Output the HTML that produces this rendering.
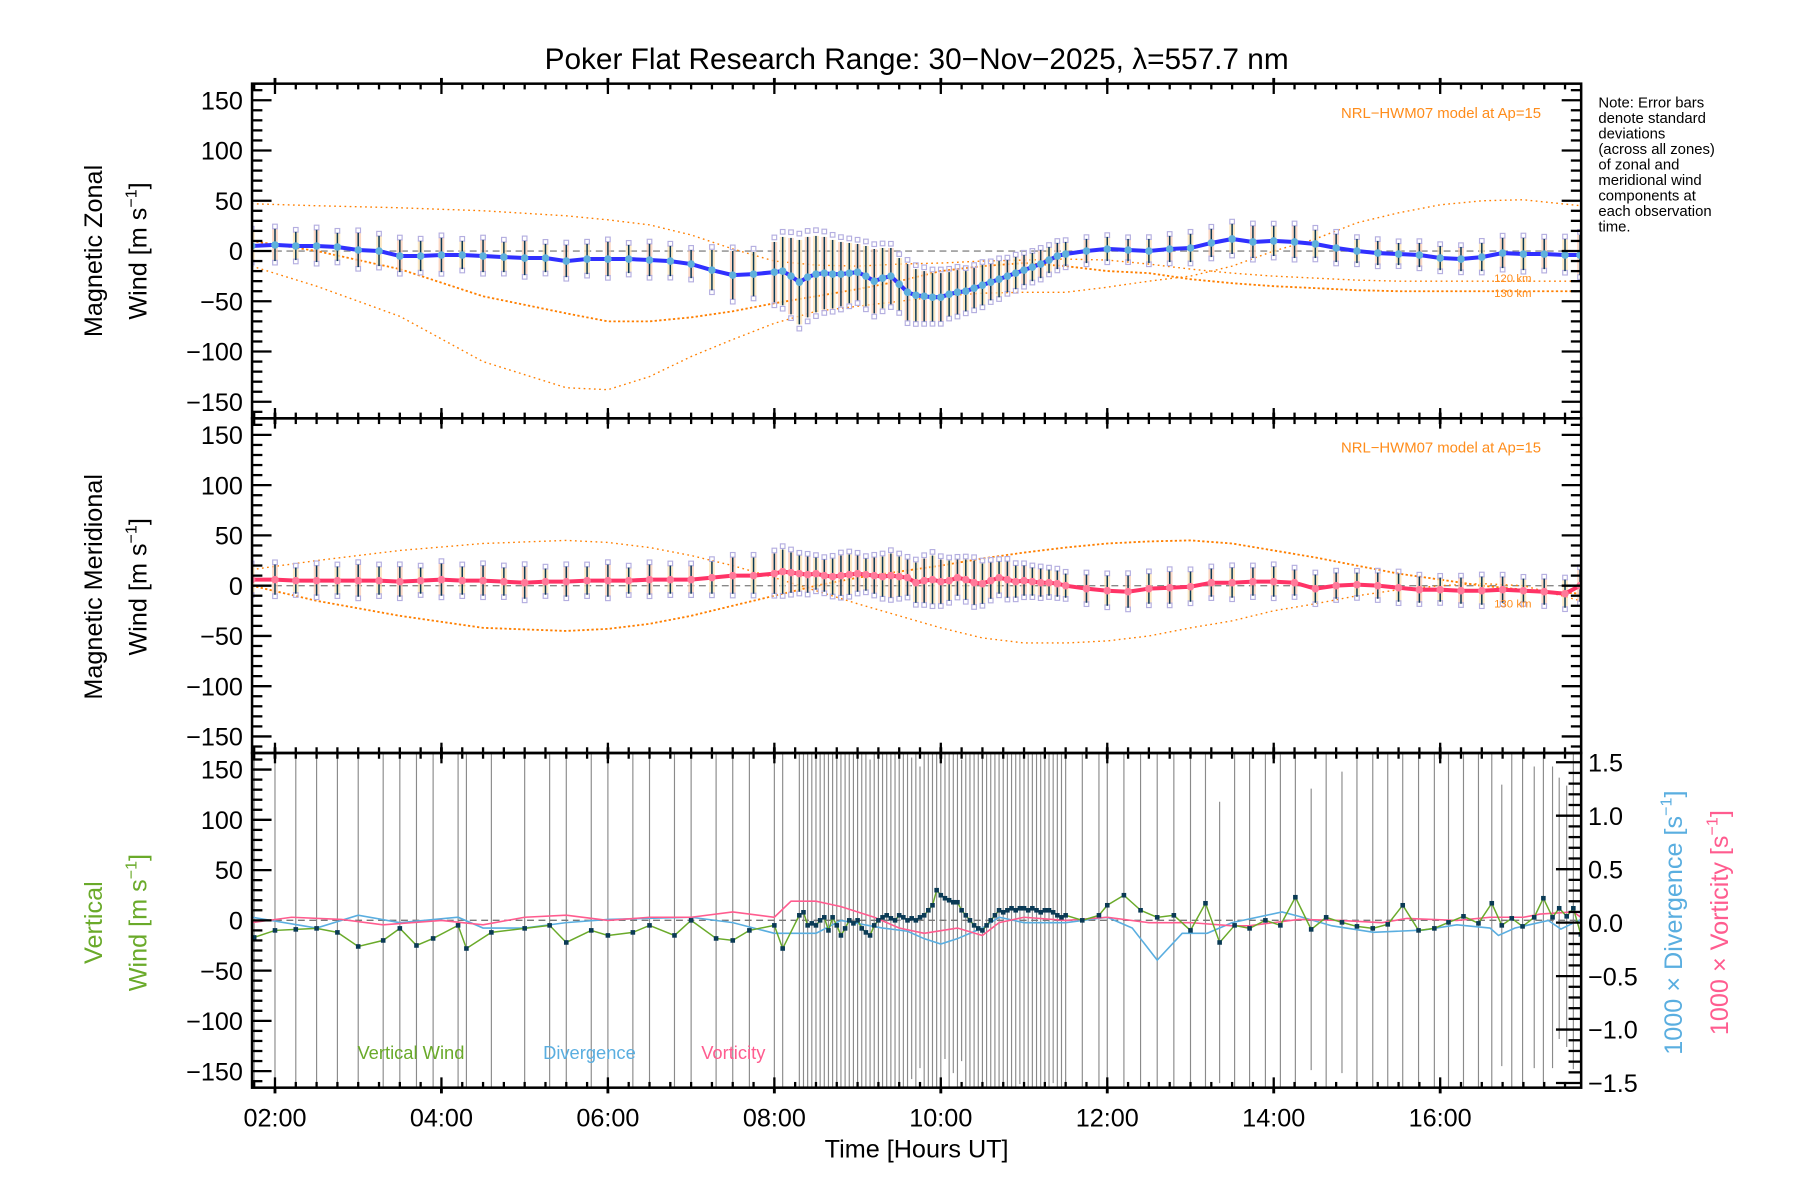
<!DOCTYPE html>
<html><head><meta charset="utf-8">
<style>
html,body{margin:0;padding:0;background:#fff;}
svg{display:block;font-family:"Liberation Sans",sans-serif;}
</style></head>
<body>
<svg id="chart" xmlns="http://www.w3.org/2000/svg" width="1800" height="1200" viewBox="0 0 1571 1047" preserveAspectRatio="none">
<rect x="0" y="0" width="1571" height="1047" fill="#fff"/>
<text x="800" y="60" font-size="26" text-anchor="middle">Poker Flat Research Range: 30−Nov−2025, λ=557.7 nm</text>
<g font-size="13">
<text x="1395" y="94">Note: Error bars</text>
<text x="1395" y="107.5">denote standard</text>
<text x="1395" y="121">deviations</text>
<text x="1395" y="134.5">(across all zones)</text>
<text x="1395" y="148">of zonal and</text>
<text x="1395" y="161.5">meridional wind</text>
<text x="1395" y="175">components at</text>
<text x="1395" y="188.5">each observation</text>
<text x="1395" y="202">time.</text>
</g>
<g id="layer"></g>
</svg>
<script>
// ---------- DATA ----------
const zonalTimes = [1.72,2.0,2.25,2.5,2.75,3.0,3.25,3.5,3.75,4.0,4.25,4.5,4.75,5.0,5.25,5.5,5.75,6.0,6.25,6.5,6.75,7.0,7.25,7.5,7.75,
 8.0,8.1,8.2,8.3,8.4,8.5,8.6,8.7,8.8,8.9,9.0,9.1,9.2,9.3,9.4,9.5,9.6,9.7,9.8,9.9,10.0,10.1,10.2,10.3,10.4,10.5,10.6,10.7,10.8,10.9,11.0,11.1,11.2,11.3,11.4,11.5,
 11.75,12.0,12.25,12.5,12.75,13.0,13.25,13.5,13.75,14.0,14.25,14.5,14.75,15.0,15.25,15.5,15.75,16.0,16.25,16.5,16.75,17.0,17.25,17.5,17.68];
const zonalWind = [5,6,5,5,4,1,0,-5,-5,-4,-4,-5,-6,-7,-7,-10,-8,-8,-8,-9,-10,-13,-19,-24,-23,
 -21,-20,-25,-31,-26,-23,-22,-23,-23,-22,-21,-25,-30,-27,-25,-33,-41,-44,-45,-46,-46,-43,-41,-40,-37,-34,-31,-28,-25,-22,-19,-16,-13,-9,-5,-3,
 0,2,1,0,2,3,8,12,9,10,9,7,3,0,-2,-3,-4,-7,-8,-6,-2,-3,-3,-4,-4];
const zonalErr = [15,16,14,16,14,17,15,16,15,17,14,16,15,17,14,16,15,17,14,16,15,14,20,24,22,
 30,34,38,42,40,38,36,34,32,30,28,30,32,30,28,26,28,26,25,24,24,22,22,20,20,20,18,18,16,16,15,14,14,13,13,12,
 12,12,11,12,13,14,14,15,16,15,16,14,14,12,12,11,12,12,12,14,15,16,15,16,20];
const meridTimes = zonalTimes;
const meridWind = [6,6,5,5,5,5,5,4,5,6,5,5,4,3,4,4,5,5,5,6,6,6,8,10,10,
 12,14,13,12,11,12,10,9,10,11,12,11,10,9,10,9,8,3,5,6,4,5,8,6,3,2,5,8,6,4,5,4,3,3,2,0,
 -3,-5,-6,-3,-2,-1,3,3,4,4,3,-3,0,1,0,-2,-4,-4,-5,-5,-4,-5,-6,-8,0];
const meridErr = [14,15,13,15,14,16,14,15,13,16,14,15,14,16,13,15,14,16,13,15,14,14,16,18,18,
 20,22,20,18,18,16,16,18,20,20,18,16,18,20,22,20,18,20,22,24,22,20,18,20,22,20,18,16,18,16,15,14,14,13,13,12,
 14,15,16,15,16,15,14,15,14,15,13,14,13,12,13,14,13,12,13,14,13,12,13,14,16];
const vertTimes = [1.75,2.0,2.25,2.5,2.75,3.0,3.3,3.5,3.7,3.9,4.2,4.3,4.6,5.0,5.3,5.5,5.8,6.0,6.3,6.5,6.8,7.0,7.3,7.5,7.7,8.0,8.1,
 8.3,8.35,8.4,8.45,8.5,8.55,8.6,8.65,8.7,8.75,8.8,8.85,8.9,8.95,9.0,9.05,9.1,9.15,9.2,9.25,9.3,9.35,9.4,9.45,9.5,9.55,9.6,9.65,9.7,9.75,9.8,9.85,9.9,9.95,10.0,10.05,10.1,10.15,10.2,10.25,10.3,10.35,10.4,10.45,10.5,10.55,10.6,10.65,10.7,10.75,10.8,10.85,10.9,10.95,11.0,11.05,11.1,11.15,11.2,11.25,11.3,11.35,11.4,11.45,11.5,
 11.7,11.9,12.0,12.2,12.4,12.6,12.8,13.0,13.18,13.35,13.53,13.71,13.9,14.08,14.26,14.45,14.63,14.82,15.0,15.19,15.37,15.55,15.74,15.93,16.1,16.28,16.46,16.62,16.74,16.86,16.99,17.13,17.24,17.35,17.43,17.52,17.6,17.69];
const vertWind = [-17,-10,-9,-8,-12,-26,-20,-8,-25,-18,-5,-28,-12,-8,-5,-22,-10,-15,-12,-5,-15,0,-18,-20,-10,-5,-28,
 5,8,-5,-3,-5,0,3,-10,3,-5,-15,-8,0,-3,0,-8,-12,-15,-5,0,3,5,2,0,5,3,0,2,0,3,5,10,15,30,25,22,20,18,18,10,5,0,-5,-8,-10,-5,0,5,10,8,10,12,10,12,12,10,12,10,8,10,10,8,5,3,5,
 0,5,15,25,10,3,5,-10,17,-22,-5,-8,0,-5,23,-9,3,-2,-6,-8,-4,15,-10,-8,-2,4,-3,17,-5,2,-6,3,22,3,12,4,12,-14];
const vertErr = [200,200,200,200,200,200,200,200,200,200,200,200,200,200,200,200,200,200,200,200,200,200,200,200,200,200,200,
 200,180,200,170,200,190,200,180,200,175,200,190,200,180,200,185,200,175,200,190,200,180,200,185,200,170,200,160,200,150,200,175,200,210,200,160,200,170,200,150,200,165,200,180,200,170,200,190,200,180,200,190,200,175,200,185,200,180,200,190,200,170,200,185,200,
 200,200,200,200,200,200,200,200,200,140,200,200,200,170,200,140,200,150,200,190,200,200,200,200,200,200,200,200,140,200,200,150,200,150,130,130,160,180];
const divTimes = [1.725,2.5,3.0,3.5,4.2,4.5,5.0,5.5,6.0,7.0,7.5,8.0,8.5,8.8,9.3,9.6,9.8,10.0,10.2,10.5,10.7,11.0,11.5,12.0,12.3,12.6,12.9,13.2,13.5,14.1,14.3,14.7,15.2,15.8,16.2,16.6,16.7,16.9,17.3,17.45,17.69];
const divergence = [0.05,-0.05,0.07,0.0,0.05,-0.05,-0.05,0.0,0.03,0.05,0.0,-0.1,-0.1,0.02,-0.05,-0.08,-0.15,-0.2,-0.15,-0.05,0.05,0.0,0.0,0.05,-0.05,-0.35,-0.1,-0.1,0.0,0.1,0.06,-0.03,-0.09,-0.07,-0.02,-0.05,-0.12,-0.05,0.02,-0.06,0.03];
const vortTimes = [1.725,2.2,2.8,3.3,4.0,4.5,5.0,5.5,6.0,6.5,7.0,7.5,8.0,8.2,8.5,8.8,9.2,9.5,9.8,10.2,10.5,10.7,11.0,11.5,12.0,12.5,13.0,13.5,13.7,14.0,14.3,14.8,15.3,15.6,16.2,16.6,17.0,17.2,17.6,17.69];
const vorticity = [0,0.05,0.03,-0.02,0.02,-0.02,0.05,0.07,0.02,0.05,0.05,0.1,0.05,0.2,0.2,0.15,0.05,-0.05,-0.1,-0.05,-0.12,0.0,0.05,0.02,0.05,0.0,0.0,-0.03,-0.03,0.0,0.03,0.02,0.0,0.04,0.02,0.05,0.05,0.08,0.1,0.05];
const modelTimes = [1.72,2.5,3.5,4.5,5.5,6.0,6.5,7.0,7.5,8.0,8.5,9.0,9.5,10.0,10.5,11.0,11.5,12.0,12.5,13.0,13.5,14.0,14.5,15.0,15.5,16.0,16.5,17.0,17.69];
const zonalModel120 = [47,45,43,40,35,31,26,16,2,-10,-14,-15,-13,-12,-10,-9,-8,-9,-13,-18,-22,-25,-27,-29,-30,-30,-30,-30,-30];
const zonalModel130 = [10,0,-18,-45,-62,-70,-70,-66,-60,-52,-45,-38,-30,-20,-15,-12,-15,-20,-22,-28,-32,-35,-37,-39,-40,-40,-40,-40,-40];
const zonalModelLow = [-15,-35,-65,-110,-136,-138,-125,-105,-88,-72,-60,-55,-50,-45,-42,-41,-41,-36,-30,-25,-15,0,12,28,38,46,50,51,45];
const meridModelA = [16,25,35,42,45,43,38,30,20,8,-5,-18,-30,-42,-52,-57,-57,-55,-50,-42,-35,-25,-18,-10,-4,0,2,0,-15];
const meridModelB = [0,-15,-30,-42,-45,-43,-38,-30,-20,-10,0,8,14,20,27,33,38,42,44,45,42,35,28,20,12,6,0,-4,-8];
const leftTicks = [-150,-100,-50,0,50,100,150];
const rightTicks = [-1.5,-1.0,-0.5,0.0,0.5,1.0,1.5];
const rightTickLabels = ["−1.5","−1.0","−0.5","0.0","0.5","1.0","1.5"];
const hourTicks = [2,4,6,8,10,12,14,16];
const hourLabels = ["02:00","04:00","06:00","08:00","10:00","12:00","14:00","16:00"];

// ---------- SCALES ----------
const X0=220, X1=1380, PH=292;
const panelTops=[73,365,657];
function xs(t){return 240+(t-2)*72.64;}
function ys(p,v){return panelTops[p]+146-v*0.877;}
function yr(v){return 805-v*93.3;}
const NS="http://www.w3.org/2000/svg";
const layer=document.getElementById('layer');
function mk(tag,attrs,parent){const e=document.createElementNS(NS,tag);for(const k in attrs)e.setAttribute(k,attrs[k]);(parent||layer).appendChild(e);return e;}

const defs=mk('defs',{});
for(let p=0;p<3;p++){const c=mk('clipPath',{id:'clip'+p},defs);mk('rect',{x:X0,y:panelTops[p],width:X1-X0,height:PH},c);}

function poly(p,times,vals,fy,attrs,name){
  let pts=times.map((t,i)=>xs(t).toFixed(1)+','+fy(vals[i]).toFixed(1)).join(' ');
  const e=mk('polyline',Object.assign({points:pts,fill:'none','clip-path':'url(#clip'+p+')'},attrs));
  
  
  return e;
}

function windPanel(p,times,vals,errs,lineColor,m1,m2,m3,name){
  const g=mk('g',{'clip-path':'url(#clip'+p+')'});
  
  
  const z=mk('line',{x1:X0,x2:X1,y1:ys(p,0),y2:ys(p,0),stroke:'#888','stroke-width':1.2,'stroke-dasharray':'6,4'},g);
  
  
  const mods=[m1,m2,m3];
  mods.forEach((m,k)=>{ if(!m) return;
    const e=poly(p,modelTimes,m,v=>ys(p,v),{stroke:'#ff7f00','stroke-width':k==1?1.6:1.2,'stroke-dasharray':k==1?'2,2':'1.5,3'},'model-curve');
    g.appendChild(e);
  });
  times.forEach((t,i)=>{
    const x=xs(t), y=ys(p,vals[i]), e=errs[i]*0.877;
    const r=mk('rect',{x:x-2.5,y:y-e,width:5,height:2*e,fill:i%2?'#f9c9b0':'#fbe0b0',opacity:0.75},g);
    
    
    const sq1=mk('rect',{x:x-2,y:y-e*1.15-2,width:4,height:4,fill:'none',stroke:'#b4aee0','stroke-width':1},g);
    
    
    const sq2=mk('rect',{x:x-2,y:y+e*1.1-2,width:4,height:4,fill:'none',stroke:'#b4aee0','stroke-width':1},g);
    
    
  });
  times.forEach((t,i)=>{
    const x=xs(t), y=ys(p,vals[i]), e=errs[i]*0.877;
    const l=mk('line',{x1:x,x2:x,y1:y-e,y2:y+e,stroke:'#0a3a55','stroke-width':1.3},g);
    
    
  });
  g.appendChild(poly(p,times,vals,v=>ys(p,v),{stroke:lineColor,'stroke-width':3.5},name+'-line'));
  times.forEach((t,i)=>{
    const c=mk('circle',{cx:xs(t),cy:ys(p,vals[i]),r:3.3,fill:p==0?'#5fb0dc':'#ff7a9a'},g);
    
    
  });
}
windPanel(0,zonalTimes,zonalWind,zonalErr,'#3030ff',zonalModel120,zonalModel130,zonalModelLow,'zonal-wind');
windPanel(1,meridTimes,meridWind,meridErr,'#ff3366',meridModelA,meridModelB,null,'meridional-wind');

(function(){
  const p=2;
  const g=mk('g',{'clip-path':'url(#clip2)'});
  
  
  vertTimes.forEach((t,i)=>{
    const x=xs(t), y=ys(p,vertWind[i]), e=vertErr[i]*0.877;
    const l=mk('line',{x1:x,x2:x,y1:y-e,y2:y+e,stroke:'#8a8a8a','stroke-width':1},g);
    
    
  });
  const z=mk('line',{x1:X0,x2:X1,y1:ys(p,0),y2:ys(p,0),stroke:'#777','stroke-width':1.2,'stroke-dasharray':'6,4'},g);
  
  
  g.appendChild(poly(p,divTimes,divergence,yr,{stroke:'#5aaee0','stroke-width':1.4},'divergence-line'));
  g.appendChild(poly(p,vortTimes,vorticity,yr,{stroke:'#ff5c8f','stroke-width':1.4},'vorticity-line'));
  g.appendChild(poly(p,vertTimes,vertWind,v=>ys(p,v),{stroke:'#6aaa2a','stroke-width':1.3},'vertical-wind-line'));
  vertTimes.forEach((t,i)=>{
    const s=mk('rect',{x:xs(t)-2,y:ys(p,vertWind[i])-2,width:4,height:4,fill:'#0a3a55'},g);
    
    
  });
})();

const ax=mk('g',{});


for(let p=0;p<3;p++){
  const T=panelTops[p], B=T+PH;
  const fr=mk('rect',{x:X0,y:T,width:X1-X0,height:PH,fill:'none',stroke:'#000','stroke-width':2.2},ax);
  
  
  for(let v=-160;v<=160;v+=10){
    const major=v%50===0, len=major?17:9, y=ys(p,v);
    mk('line',{x1:X0,x2:X0+len,y1:y,y2:y,stroke:'#000','stroke-width':2},ax);
    if(p<2) mk('line',{x1:X1,x2:X1-len,y1:y,y2:y,stroke:'#000','stroke-width':2},ax);
  }
  leftTicks.forEach(v=>{
    const t=mk('text',{x:X0-8,y:ys(p,v)+8,'font-size':22,'text-anchor':'end'},ax);
    t.textContent=(v<0?'−':'')+Math.abs(v);
    
    
  });
  for(let t=1.75;t<=17.7;t+=0.25){
    const major=Math.abs(t-Math.round(t))<1e-6 && Math.round(t)%2===0;
    const len=major?9:5, x=xs(t);
    mk('line',{x1:x,x2:x,y1:T,y2:T+len,stroke:'#000','stroke-width':2},ax);
    mk('line',{x1:x,x2:x,y1:B,y2:B-len,stroke:'#000','stroke-width':2},ax);
    if(major){mk('line',{x1:x,x2:x,y1:T,y2:T-5,stroke:'#000','stroke-width':2.5},ax);mk('line',{x1:x,x2:x,y1:B,y2:B+5,stroke:'#000','stroke-width':2.5},ax);}
  }
}
for(let v=-1.5;v<=1.56;v+=0.1){
  const major=Math.abs(v*2-Math.round(v*2))<1e-6, len=major?22:11, y=yr(v);
  mk('line',{x1:X1,x2:X1-len,y1:y,y2:y,stroke:'#000','stroke-width':2},ax);
}
rightTicks.forEach((v,i)=>{
  const t=mk('text',{x:X1+6,y:yr(v)+8,'font-size':22},ax);
  t.textContent=rightTickLabels[i];
  
  
});
hourTicks.forEach((h,i)=>{
  const t=mk('text',{x:xs(h),y:983,'font-size':22,'text-anchor':'middle'},ax);
  t.textContent=hourLabels[i];
  
  
});
</script>
<svg style="position:absolute;left:0;top:0;pointer-events:none" width="1800" height="1200" viewBox="0 0 1571 1047" preserveAspectRatio="none" font-family="Liberation Sans, sans-serif">
<text x="800" y="1010" font-size="22" text-anchor="middle">Time [Hours UT]</text>
<g font-size="22" text-anchor="middle">
<text transform="translate(89,219) rotate(-90)">Magnetic Zonal</text>
<text transform="translate(128,219) rotate(-90)">Wind [m s<tspan font-size="14" dy="-9">−1</tspan><tspan dy="9">]</tspan></text>
</g>
<g font-size="22" text-anchor="middle">
<text transform="translate(89,512) rotate(-90)">Magnetic Meridional</text>
<text transform="translate(128,512) rotate(-90)">Wind [m s<tspan font-size="14" dy="-9">−1</tspan><tspan dy="9">]</tspan></text>
</g>
<g font-size="22" text-anchor="middle" fill="#6aaa2a">
<text transform="translate(89,805) rotate(-90)">Vertical</text>
<text transform="translate(128,805) rotate(-90)">Wind [m s<tspan font-size="14" dy="-9">−1</tspan><tspan dy="9">]</tspan></text>
</g>
<text transform="translate(1468,805) rotate(-90)" font-size="22" text-anchor="middle" fill="#5aaee0">1000 × Divergence [s<tspan font-size="14" dy="-9">−1</tspan><tspan dy="9">]</tspan></text>
<text transform="translate(1508,805) rotate(-90)" font-size="22" text-anchor="middle" fill="#ff5c8f">1000 × Vorticity [s<tspan font-size="14" dy="-9">−1</tspan><tspan dy="9">]</tspan></text>
<text x="1345" y="103" font-size="13" text-anchor="end" fill="#ff8c1a">NRL−HWM07 model at Ap=15</text>
<text x="1345" y="395" font-size="13" text-anchor="end" fill="#ff8c1a">NRL−HWM07 model at Ap=15</text>
<text x="1304" y="246" font-size="10" fill="#ff8c1a">120 km</text>
<text x="1304" y="259" font-size="10" fill="#ff8c1a">130 km</text>
<text x="1304" y="530" font-size="10" fill="#ff8c1a">130 km</text>
<text x="312" y="924" font-size="16" fill="#6aaa2a">Vertical Wind</text>
<text x="474" y="924" font-size="16" fill="#5aaee0">Divergence</text>
<text x="612" y="924" font-size="16" fill="#ff5c8f">Vorticity</text>
</svg>
</body></html>
